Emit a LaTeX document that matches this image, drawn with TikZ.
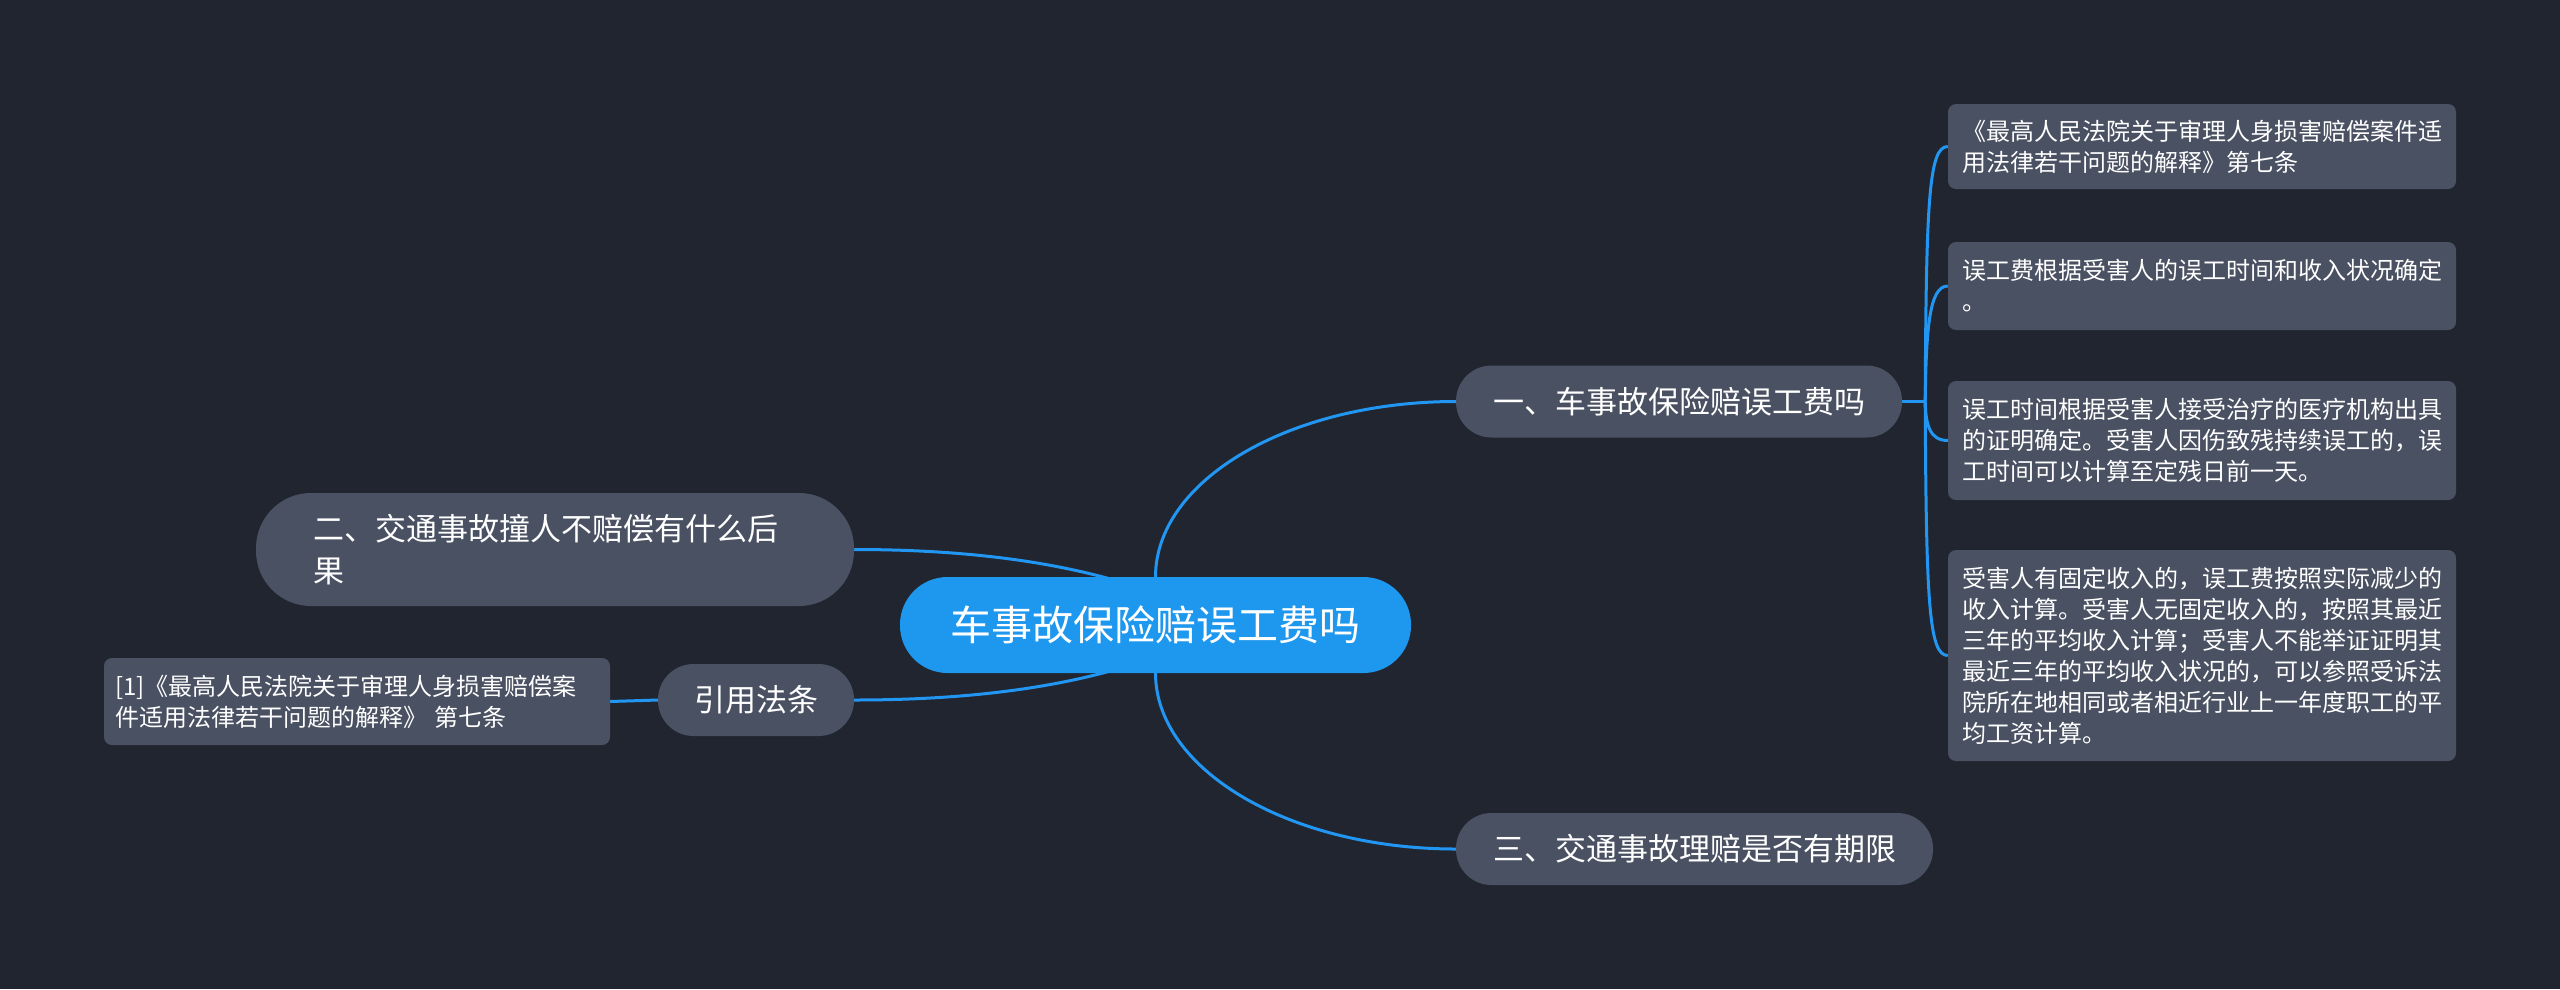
\documentclass[tikz,border=0pt]{standalone}
\usepackage{fontspec}
\setmainfont{Noto Sans CJK SC}
\usetikzlibrary{calc}
\definecolor{bgc}{HTML}{21252F}
\definecolor{nodec}{HTML}{4A5162}
\definecolor{rootc}{HTML}{1E97EE}
\definecolor{linec}{HTML}{2196F3}
\pgfdeclarelayer{back}
\pgfsetlayers{back,main}
\begin{document}
\begin{tikzpicture}[x=1pt,y=-1pt,
  conn/.style={draw=linec,line width=3pt},
  rootbox/.style={fill=rootc,rounded corners=47.5pt,minimum width=511pt,minimum height=96pt,inner sep=0pt,text=white,font=\fontsize{41}{48}\selectfont},
  lvlbox/.style={fill=nodec,rounded corners=35.5pt,minimum height=72pt,inner sep=0pt,text=white,font=\fontsize{31}{40}\selectfont},
  twobox/.style={fill=nodec,rounded corners=55pt,text width=484pt,align=left,inner xsep=57pt,inner ysep=0pt,minimum height=113pt,text=white,font=\fontsize{31}{42}\selectfont},
  leafbox/.style={fill=nodec,rounded corners=8pt,text width=480pt,align=left,inner xsep=14pt,inner ysep=0pt,text=white,font=\fontsize{24}{31}\selectfont}
]
\useasboundingbox (0,0) rectangle (2560,989);
\begin{pgfonlayer}{back}
\fill[bgc] (0,0) rectangle (2560,989);
\end{pgfonlayer}

% nodes
\node[rootbox] (root) at (1155.5,625) {车事故保险赔误工费吗};
\node[lvlbox,minimum width=446pt] (n1) at (1679,401.5) {一、车事故保险赔误工费吗};
\node[lvlbox,minimum width=477pt] (n3) at (1694.5,849) {三、交通事故理赔是否有期限};
\node[lvlbox,minimum width=196pt] (cite) at (756,700) {引用法条};
\node[twobox] (n2) at (555,549.5) {二、交通事故撞人不赔偿有什么后\\果};
\node[leafbox,text width=484pt,inner xsep=11pt,minimum height=87pt] (ref1) at (357,701.5) {[1]《最高人民法院关于审理人身损害赔偿案\\件适用法律若干问题的解释》 第七条};

\node[leafbox,minimum height=85pt] (b1) at (2202,146.5) {《最高人民法院关于审理人身损害赔偿案件适\\用法律若干问题的解释》第七条};
\node[leafbox,minimum height=88pt] (b2) at (2202,286) {误工费根据受害人的误工时间和收入状况确定\\。};
\node[leafbox,minimum height=119pt] (b3) at (2202,440.5) {误工时间根据受害人接受治疗的医疗机构出具\\的证明确定。受害人因伤致残持续误工的，误\\工时间可以计算至定残日前一天。};
\node[leafbox,minimum height=211pt] (b4) at (2202,655.5) {受害人有固定收入的，误工费按照实际减少的\\收入计算。受害人无固定收入的，按照其最近\\三年的平均收入计算；受害人不能举证证明其\\最近三年的平均收入状况的，可以参照受诉法\\院所在地相同或者相近行业上一年度职工的平\\均工资计算。};

\coordinate (J) at ($(n1.east)+(23,0)$);
\coordinate (rootUL) at ($(root.center)+(4.5,-30)$);
\coordinate (rootLL) at ($(root.center)+(4.5,30)$);

% connectors
\begin{pgfonlayer}{back}
\draw[conn] (root.center) -- ++(0,-48) .. controls +(0,-97) and +(-166,0) .. (n1.west);
\draw[conn] (root.center) -- ++(0,48) .. controls +(0,97) and +(-166,0) .. (n3.west);
\draw[conn] (n2.east) .. controls +(126,0) and +(-80,-30) .. (rootUL);
\draw[conn] (cite.east) .. controls +(126,0) and +(-80,30) .. (rootLL);
\draw[conn] (cite.west) -- (ref1.east);
\draw[conn] (n1.east) -- (J);
\draw[conn] (J) .. controls +(1,-201.5) and +(-19,0) .. (b1.west);
\draw[conn] (J) .. controls +(1,-70.5) and +(-19,0) .. (b2.west);
\draw[conn] (J) .. controls +(0.5,23.5) and +(-18,0) .. (b3.west);
\draw[conn] (J) .. controls +(1,200.5) and +(-19,0) .. (b4.west);
\end{pgfonlayer}
\end{tikzpicture}
\end{document}
